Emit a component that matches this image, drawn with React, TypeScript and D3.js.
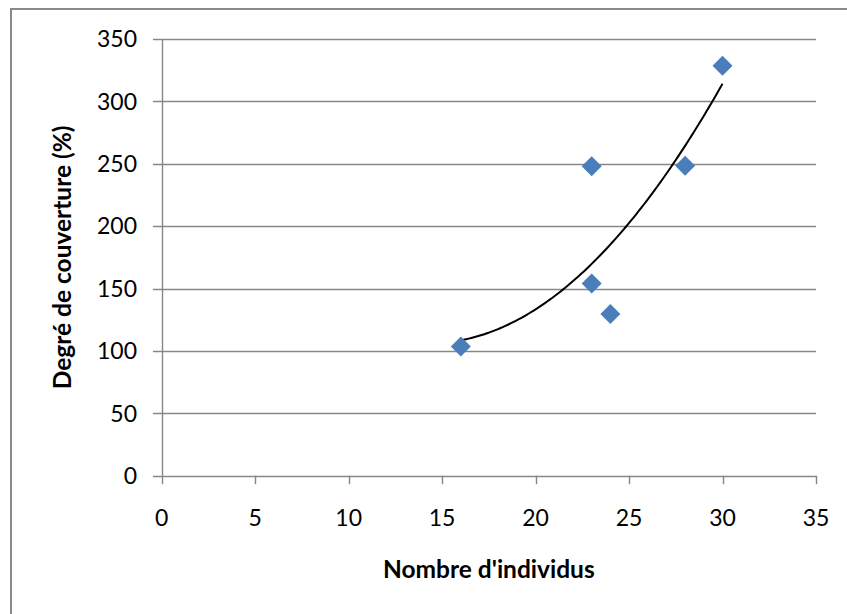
import React from "react";
import * as d3 from "d3";

const individus: number[] = [16, 23, 23, 24, 28, 30];
const couverture: number[] = [103.5, 248, 154, 129.5, 248.5, 328.5];
const xTicks: number[] = [0, 5, 10, 15, 20, 25, 30, 35];
const yTicks: number[] = [0, 50, 100, 150, 200, 250, 300, 350];
const xTitle = "Nombre d'individus";
const yTitle = "Degré de couverture (%)";

// quadratic least-squares trendline (Excel polynomial, order 2)
function polyFit2(xs: number[], ys: number[]): [number, number, number] {
  const n = xs.length;
  let s1 = 0, s2 = 0, s3 = 0, s4 = 0, t0 = 0, t1 = 0, t2 = 0;
  for (let i = 0; i < n; i++) {
    const x = xs[i], y = ys[i];
    s1 += x; s2 += x * x; s3 += x * x * x; s4 += x * x * x * x;
    t0 += y; t1 += x * y; t2 += x * x * y;
  }
  const M = [
    [n, s1, s2, t0],
    [s1, s2, s3, t1],
    [s2, s3, s4, t2],
  ];
  for (let i = 0; i < 3; i++) {
    for (let j = i + 1; j < 3; j++) {
      const f = M[j][i] / M[i][i];
      for (let k = i; k < 4; k++) M[j][k] -= f * M[i][k];
    }
  }
  const c = M[2][3] / M[2][2];
  const b = (M[1][3] - M[1][2] * c) / M[1][1];
  const a = (M[0][3] - M[0][1] * b - M[0][2] * c) / M[0][0];
  return [a, b, c];
}

export default function App() {
  const W = 847, H = 614;
  const x = d3.scaleLinear().domain([0, 35]).range([161.7, 816]);
  const y = d3.scaleLinear().domain([0, 350]).range([475.7, 39]);
  const grid = "#878787";
  const font = "Lato, 'Open Sans', sans-serif";

  const [a, b, c] = polyFit2(individus, couverture);
  const xmin = d3.min(individus)!, xmax = d3.max(individus)!;
  const trendPts: [number, number][] = d3.range(0, 101).map((i) => {
    const xv = xmin + ((xmax - xmin) * i) / 100;
    return [xv, a + b * xv + c * xv * xv];
  });
  const line = d3.line<[number, number]>().x((d) => x(d[0])).y((d) => y(d[1]));
  const diamond = d3.symbol().type(d3.symbolSquare).size(200)();

  return (
    <div style={{ position: "fixed", left: 0, top: 0, width: W, height: H, background: "#fff" }}>
      <svg width={W} height={H} style={{ display: "block" }}>
        <rect x={0} y={0} width={W} height={H} fill="#fff" />
        <rect x={11} y={9} width={W + 20} height={H + 20} fill="none" stroke="#8a8a8a" strokeWidth={2} />
        {yTicks.map((t) => (
          <line key={"g" + t} x1={153} x2={x(35)} y1={Math.round(y(t)) + 0.5} y2={Math.round(y(t)) + 0.5} stroke={grid} strokeWidth={1.4} />
        ))}
        <line x1={Math.round(x(0)) + 0.5} x2={Math.round(x(0)) + 0.5} y1={y(350)} y2={y(0)} stroke={grid} strokeWidth={1.4} />
        {xTicks.map((t) => (
          <line key={"xt" + t} x1={Math.round(x(t)) + 0.5} x2={Math.round(x(t)) + 0.5} y1={y(0)} y2={y(0) + 8.5} stroke={grid} strokeWidth={1.4} />
        ))}
        {yTicks.map((t) => (
          <text key={"yl" + t} x={137} y={y(t)} dy="0.36em" textAnchor="end" fontFamily={font} fontSize={23} fill="#000">
            {t}
          </text>
        ))}
        {xTicks.map((t) => (
          <text key={"xl" + t} x={x(t)} y={526} textAnchor="middle" fontFamily={font} fontSize={23} fill="#000">
            {t}
          </text>
        ))}
        <path d={line(trendPts) || ""} fill="none" stroke="#000" strokeWidth={2} />
        {individus.map((xv, i) => (
          <path
            key={"p" + i}
            d={diamond || ""}
            transform={`translate(${x(xv)},${y(couverture[i])}) rotate(45)`}
            fill="#4a7ebb"
          />
        ))}
        <text x={(x(0) + x(35)) / 2} y={578} textAnchor="middle" fontFamily={font} fontSize={24.5} fontWeight="bold" fill="#000">
          {xTitle}
        </text>
        <text
          transform={`translate(71,${(y(0) + y(350)) / 2}) rotate(-90)`}
          textAnchor="middle"
          fontFamily={font}
          fontSize={24.5}
          fontWeight="bold"
          fill="#000"
        >
          {yTitle}
        </text>
      </svg>
    </div>
  );
}
